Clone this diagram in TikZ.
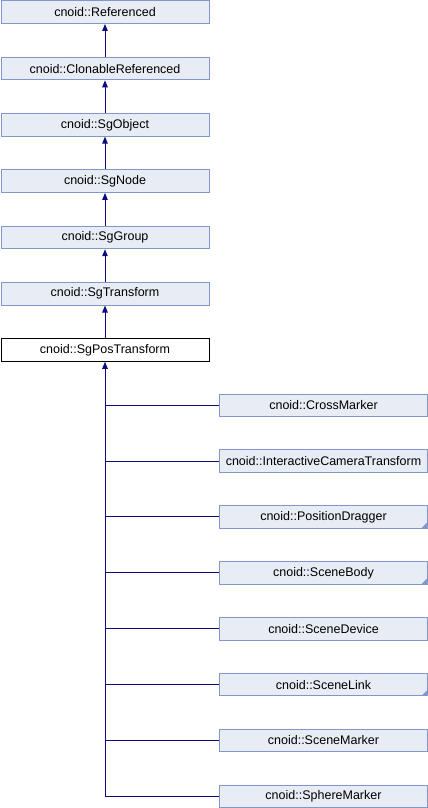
\documentclass[tikz,border=0pt]{standalone}
\usepackage{fontspec}
\setmainfont{Liberation Sans}
\usetikzlibrary{arrows.meta}
\definecolor{boxfill}{HTML}{E8ECF4}
\definecolor{boxdraw}{HTML}{7F98C9}
\definecolor{edgecol}{RGB}{12,12,128}
\begin{document}
\begin{tikzpicture}[x=1pt,y=-1pt,
  cls/.style={draw=boxdraw,fill=boxfill,line width=1pt,minimum width=208pt,minimum height=22.5pt,inner sep=0pt,font=\fontsize{12.5}{14}\selectfont,anchor=north west},
  cur/.style={cls,draw=black,fill=white},
  inh/.style={draw=edgecol,line width=1pt,-{Triangle[length=7pt,width=5.5pt]}},
  ln/.style={draw=edgecol,line width=1pt}]
\useasboundingbox (0,0) rectangle (428,808);
\node[cls] (a0) at (0.5,0.5) {cnoid::Referenced};
\node[cls] (a1) at (0.5,56.8) {cnoid::ClonableReferenced};
\node[cls] (a2) at (0.5,113.1) {cnoid::SgObject};
\node[cls] (a3) at (0.5,169.4) {cnoid::SgNode};
\node[cls] (a4) at (0.5,225.7) {cnoid::SgGroup};
\node[cls] (a5) at (0.5,282) {cnoid::SgTransform};
\node[cur] (a6) at (0.5,338.3) {cnoid::SgPosTransform};
\foreach \i/\j in {1/0,2/1,3/2,4/3,5/4,6/5}
  \draw[inh] (a\i.north) -- (a\j.south);
\node[cls] (b0) at (219,393.5) {cnoid::CrossMarker};
\node[cls] (b1) at (219,449.4) {cnoid::InteractiveCameraTransform};
\node[cls] (b2) at (219,505.2) {cnoid::PositionDragger};
\node[cls] (b3) at (219,561.1) {cnoid::SceneBody};
\node[cls] (b4) at (219,617) {cnoid::SceneDevice};
\node[cls] (b5) at (219,672.8) {cnoid::SceneLink};
\node[cls] (b6) at (219,728.7) {cnoid::SceneMarker};
\node[cls] (b7) at (219,784.5) {cnoid::SphereMarker};
\foreach \k in {2,3,5}
  \fill[boxdraw] ([xshift=-0.5pt,yshift=0.5pt]b\k.south east) -- ++(-6,0) -- ++(6,-6) -- cycle;
\coordinate (bot) at (a6.south |- b7.west);
\foreach \k in {0,...,7}
  \draw[ln] (a6.south |- b\k.west) -- (b\k.west);
\draw[inh] (bot) -- (a6.south);
\end{tikzpicture}
\end{document}
